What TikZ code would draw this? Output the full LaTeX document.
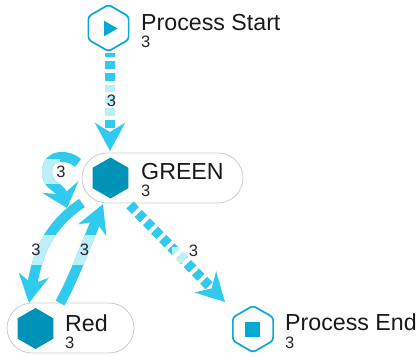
\documentclass[tikz,border=0pt]{standalone}
\usepackage{fontspec}
\setmainfont{Liberation Sans}
\usetikzlibrary{arrows.meta,shapes.geometric,shapes.misc,calc}
\definecolor{edgeC}{HTML}{2FCAEE}
\definecolor{edgeL}{HTML}{BDEFF9}
\definecolor{hexO}{HTML}{0AA8D4}
\definecolor{hexF}{HTML}{0093B8}
\definecolor{iconC}{HTML}{00AAD4}
\tikzset{
  pill/.style={draw=black!20,line width=.8pt,fill=white,rounded rectangle,minimum height=50pt,inner sep=0pt},
  hexa/.style={regular polygon,regular polygon sides=6,shape border rotate=30,minimum size=#1,inner sep=0pt,outer sep=0pt},
  hexring/.style={hexa=46.5pt,draw=hexO,line width=1.7pt,fill=white,rounded corners=3pt},
  hexfill/.style={hexa=41pt,fill=hexF},
  title/.style={anchor=base west,font=\fontsize{23.2}{23}\selectfont,inner sep=0pt,text=black!90},
  cnt/.style={anchor=base west,font=\fontsize{16.5}{17}\selectfont,inner sep=0pt,text=black!85},
  elabel/.style={font=\fontsize{16.5}{17}\selectfont,inner sep=0pt,text=black!85},
  flow/.style={draw=edgeC,line width=#1},
  flow/.default=9pt,
  lightflow/.style={draw=edgeL,line width=#1},
  bigtip/.style={-{Stealth[length=28pt,width=30pt,inset=9pt]}},
  looptip/.style={-{Stealth[length=22pt,width=38pt,inset=8pt]}},
  flowdash/.style={dash pattern=on 7.7pt off 4pt},
}
\begin{document}
\begin{tikzpicture}[x=1pt,y=-1pt]
\useasboundingbox (0,0) rectangle (417,356);
% nodes
\node[pill,minimum width=161pt] (gr) at (162.5,178) {};
\node[pill,minimum width=127pt] (rd) at (70.5,328) {};
\node[hexring] (st) at (108.5,28) {};
\node[hexring] (en) at (253,329) {};
\node[hexfill] (grh) at (110.5,178) {};
\node[hexfill] (rdh) at (35.5,328.5) {};
\node[fill=iconC,regular polygon,regular polygon sides=3,shape border rotate=-90,minimum size=18pt,inner sep=0pt] (sti) at (108.5,28.5) {};
\node[fill=iconC,minimum size=15pt,inner sep=0pt] (eni) at (252.5,329.5) {};
% anchors for connectors
\coordinate (a1) at (110,52.7);
\coordinate (a2) at (110,151);
\coordinate (b1) at (130,205);
\coordinate (b2) at (225,302);
\coordinate (c1) at (82,203);
\coordinate (c2) at (29,303);
\coordinate (d1) at (60,303);
\coordinate (d2) at (103,204);
\coordinate (e1) at (78,163);
\coordinate (e2) at (67,208);
% connectors
\draw[flow=10pt,dash pattern=on 7.7pt off 4pt,dash phase=3.1pt,bigtip] (a1) -- (a2);
\begin{scope}
\clip (95,83) rectangle (125,116);
\draw[draw=white,line width=10pt,bigtip] (a1) -- (a2);
\draw[lightflow=10pt,dash pattern=on 7.7pt off 4pt,dash phase=3.1pt,bigtip] (a1) -- (a2);
\end{scope}
\draw[flow=10pt,flowdash,bigtip] (b1) -- (b2);
\begin{scope}
\clip (172,247) rectangle (187,262);
\draw[draw=white,line width=10pt,bigtip] (b1) -- (b2);
\draw[lightflow=10pt,flowdash,bigtip] (b1) -- (b2);
\end{scope}
\draw[flow=10pt,bigtip] (c1) .. controls (54,222) and (39,245) .. (c2);
\begin{scope}
\clip (10,235) rectangle (60,264);
\draw[lightflow=10pt,bigtip] (c1) .. controls (54,222) and (39,245) .. (c2);
\end{scope}
\draw[flow=10pt,bigtip] (d1) .. controls (72,282) and (84,250) .. (d2);
\begin{scope}
\clip (65,235) rectangle (110,264);
\draw[lightflow=10pt,bigtip] (d1) .. controls (72,282) and (84,250) .. (d2);
\end{scope}
\draw[flow=10pt,looptip] (e1) .. controls (70,155) and (47,152) .. (47,172) .. controls (47,187) and (60,186) .. (e2);
\begin{scope}
\clip (30,159) rectangle (60,183);
\draw[lightflow=10pt,looptip] (e1) .. controls (70,155) and (47,152) .. (47,172) .. controls (47,187) and (60,186) .. (e2);
\end{scope}
% texts
\node[title] (t1) at (141,30) {Process Start};
\node[cnt] (c1t) at (141,47) {3};
\node[title] (t2) at (141,179) {GREEN};
\node[cnt] (c2t) at (141,196) {3};
\node[title] (t3) at (65,331) {Red};
\node[cnt] (c3t) at (65,348) {3};
\node[title] (t4) at (285,330) {Process End};
\node[cnt] (c4t) at (285,348) {3};
\node[elabel] (l1) at (111.5,100.5) {3};
\node[elabel] (l2) at (61,172) {3};
\node[elabel] (l3) at (36,250) {3};
\node[elabel] (l4) at (84.5,250) {3};
\node[elabel] (l5) at (193.5,250.5) {3};
\end{tikzpicture}
\end{document}
